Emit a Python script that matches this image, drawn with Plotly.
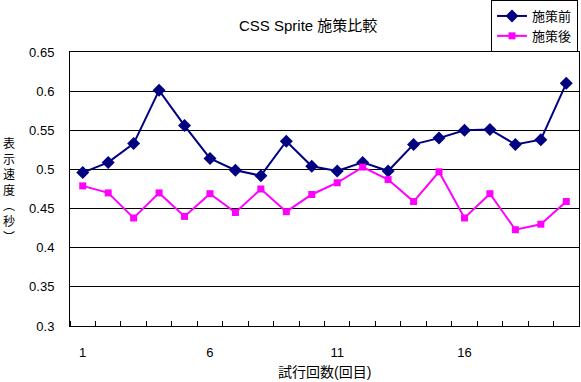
import plotly.graph_objects as go

trials = list(range(1, 21))
before = [0.496, 0.509, 0.533, 0.601, 0.556, 0.514, 0.499, 0.492, 0.536, 0.504,
          0.498, 0.509, 0.498, 0.532, 0.540, 0.550, 0.551, 0.532, 0.538, 0.610]
after = [0.479, 0.470, 0.438, 0.470, 0.440, 0.469, 0.445, 0.475, 0.446, 0.468,
         0.483, 0.503, 0.487, 0.459, 0.497, 0.438, 0.469, 0.423, 0.430, 0.459]
x_tickvals = [1, 6, 11, 16]
x_ticktext = ["1", "6", "11", "16"]
y_tickvals = [0.3, 0.35, 0.4, 0.45, 0.5, 0.55, 0.6, 0.65]
y_ticktext = ["0.3", "0.35", "0.4", "0.45", "0.5", "0.55", "0.6", "0.65"]
series_names = ["施策前", "施策後"]
title_text = "CSS Sprite 施策比較"
x_title = "試行回数(回目)"
y_title_chars = ["表", "示", "速", "度", "︵", "秒", "︶"]

FONT = "Liberation Sans, Arial, Noto Sans CJK JP, sans-serif"
W, H = 581, 382
L, R, T, B = 70, 2, 52, 56
PW, PH = W - L - R, H - T - B


def px_x(px):
    return (px - L) / PW


def px_y(py):
    return (H - B - py) / PH


fig = go.Figure()
fig.add_trace(go.Scatter(
    x=trials, y=before, name=series_names[0], mode="lines+markers",
    line=dict(color="#000080", width=2),
    marker=dict(symbol="diamond", size=10, color="#000080"),
))
fig.add_trace(go.Scatter(
    x=trials, y=after, name=series_names[1], mode="lines+markers",
    line=dict(color="#FF00FF", width=2),
    marker=dict(symbol="square", size=7, color="#FF00FF"),
))

annotations = [
    dict(text=title_text, x=px_x(307.5), y=px_y(25), xref="paper", yref="paper",
         xanchor="center", yanchor="middle",
         showarrow=False, font=dict(size=15, color="black", family=FONT)),
    dict(text=x_title, x=px_x(324), y=px_y(372), xref="paper", yref="paper",
         xanchor="center", yanchor="middle",
         showarrow=False, font=dict(size=14, color="black", family=FONT)),
    dict(text="<br>".join(y_title_chars), x=px_x(9), y=px_y(191), xref="paper", yref="paper",
         xanchor="center", yanchor="middle",
         showarrow=False, font=dict(size=12, color="black", family=FONT)),
]

fig.update_layout(
    width=W, height=H,
    margin=dict(l=L, r=R, t=T, b=B, pad=0, autoexpand=False),
    paper_bgcolor="white", plot_bgcolor="white",
    font=dict(family=FONT, size=13, color="black"),
    showlegend=True,
    legend=dict(x=px_x(491), y=px_y(0), xanchor="left", yanchor="top",
                bordercolor="black", borderwidth=1, bgcolor="white",
                font=dict(size=13, family=FONT), tracegroupgap=0,
                itemwidth=30),
    annotations=annotations,
    xaxis=dict(range=[0.5, 20.5], tickmode="array", tickvals=x_tickvals,
               ticktext=x_ticktext, ticks="", showgrid=False, zeroline=False,
               showline=True, linecolor="black", linewidth=1, mirror=True,
               ticklabelstandoff=14,
               minor=dict(tickmode="linear", tick0=0.5, dtick=1, ticks="inside",
                          ticklen=5, tickcolor="black", tickwidth=1, showgrid=False)),
    yaxis=dict(range=[0.3, 0.65], tickmode="array", tickvals=y_tickvals,
               ticktext=y_ticktext, ticks="", showgrid=True, gridcolor="black",
               gridwidth=1, zeroline=False, showline=True, linecolor="black",
               linewidth=1, mirror=True, ticklabelstandoff=12),
)

fig.write_html("out.html", config={"displayModeBar": False},
               post_script="document.body.style.margin='0';document.body.style.overflow='hidden';")
